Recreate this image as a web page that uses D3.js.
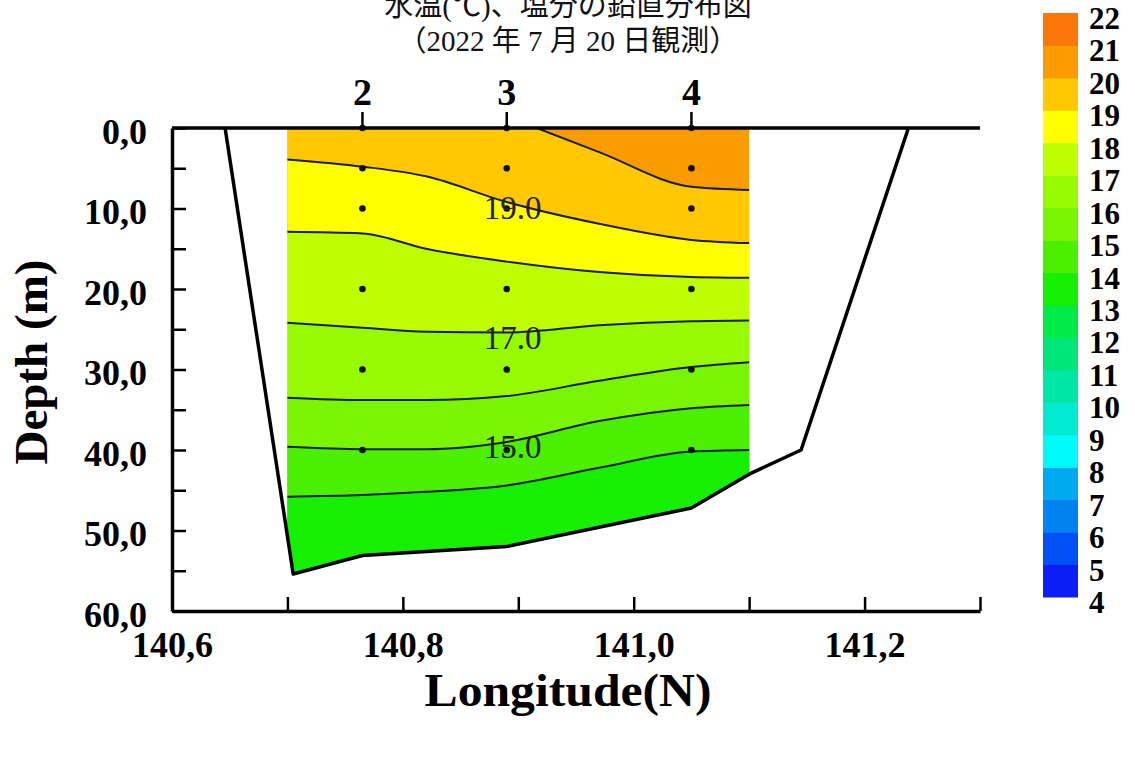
<!DOCTYPE html>
<html><head><meta charset="utf-8">
<script src="https://cdn.jsdelivr.net/npm/d3@7"></script>
<style>body{margin:0;background:#fff}</style>
</head><body><svg id="c" width="1135" height="765"></svg>
<script>
// ---------- data ----------
const titleLines = ["水温(℃)、塩分の鉛直分布図", "（2022 年 7 月 20 日観測）"];
const stationNames = ["2", "3", "4"];
const stationLon = [140.765, 140.89, 141.05];
const sampleDepths = [0, 5, 10, 20, 30, 40];
const bathyLon = [140.646, 140.705, 140.765, 140.89, 141.05, 141.10, 141.145, 141.238];
const bathyDepth = [0, 55.4, 53.1, 52.0, 47.2, 43.0, 40.0, 0];
const isoLevels = [20, 19, 18, 17, 16, 15, 14];
const iso20Lon = [140.916, 140.97, 141.05, 141.10];
const iso20Depth = [0, 3.0, 7.3, 7.7];
const isoLon = [140.70, 140.765, 140.82, 140.89, 140.97, 141.05, 141.10];
const iso19Depth = [3.9, 4.8, 6.0, 9.2, 11.9, 13.9, 14.3];
const iso18Depth = [12.9, 13.1, 15.0, 16.6, 17.9, 18.5, 18.6];
const iso17Depth = [24.2, 24.8, 25.3, 25.4, 24.5, 24.0, 23.9];
const iso16Depth = [33.5, 33.8, 33.8, 33.3, 31.4, 29.7, 29.1];
const iso15Depth = [39.6, 39.9, 39.9, 39.0, 36.4, 34.8, 34.4];
const iso14Depth = [45.8, 45.6, 45.2, 44.4, 42.2, 40.2, 40.0];
const contourLabelValues = [19, 17, 15];
const contourLabelLon = [140.895, 140.895, 140.895];
const contourLabelDepth = [9.9, 26.1, 39.6];
const xTickValues = [140.6, 140.7, 140.8, 140.9, 141.0, 141.1, 141.2, 141.3];
const xLabelValues = [140.6, 140.8, 141.0, 141.2];
const yTickValues = [0, 5, 10, 15, 20, 25, 30, 35, 40, 45, 50, 55, 60];
const yLabelValues = [0, 10, 20, 30, 40, 50, 60];
const colorbarTicks = [22, 21, 20, 19, 18, 17, 16, 15, 14, 13, 12, 11, 10, 9, 8, 7, 6, 5, 4];
const bandColors = ["#0A1EF5", "#0050F5", "#0082F0", "#00AAF0", "#00FAFA", "#00EBD2",
  "#00E6A5", "#00E678", "#00EB46", "#14F000", "#4BF000", "#78F500", "#96FA00", "#BEFF00",
  "#FFFF00", "#FFC800", "#FA9B00", "#FA780A"];

// ---------- setup ----------
const svg = d3.select("#c");
const serif = "'Liberation Serif','Times New Roman',serif";
const x = d3.scaleLinear().domain([140.6, 141.3]).range([172, 980]);
const y = d3.scaleLinear().domain([0, 60]).range([128, 611]);
const cs = d3.scaleThreshold().domain(d3.range(5, 23)).range(bandColors);
const fmtComma = d => d3.format(".1f")(d).replace(".", ",");

// title
svg.selectAll("text.title").data(titleLines).join("text")
  .attr("x", 568).attr("y", (d, i) => 16 + i * 35)
  .attr("text-anchor", "middle")
  .style("font-family", "'Liberation Serif','Noto Sans CJK JP',serif")
  .style("font-size", "29px").attr("fill", "#111").text(d => d);

// clip by sea bottom
const bathyPts = bathyLon.map((l, i) => [x(l), y(bathyDepth[i])]);
svg.append("clipPath").attr("id", "sea").append("path").attr("d", d3.line()(bathyPts) + "Z");

const g = svg.append("g").attr("clip-path", "url(#sea)");
const lonMin = 140.70, lonMax = 141.10;
g.append("rect").attr("x", x(lonMin)).attr("y", y(0))
  .attr("width", x(lonMax) - x(lonMin)).attr("height", y(60) - y(0))
  .attr("fill", cs(20.5));

const isoDepths = [null, iso19Depth, iso18Depth, iso17Depth, iso16Depth, iso15Depth, iso14Depth];
const isoSets = isoLevels.map((L, i) => {
  const lons = i === 0 ? iso20Lon : isoLon;
  const ds = i === 0 ? iso20Depth : isoDepths[i];
  return { L, pts: lons.map((l, j) => [x(l), y(ds[j])]) };
});
const lineGen = d3.line().curve(d3.curveMonotoneX);
isoSets.forEach(s => {
  const lp = lineGen(s.pts);
  const d = `M${x(lonMin)},${y(0)}L` + lp.slice(1) +
    `L${x(lonMax)},${y(60)}L${x(lonMin)},${y(60)}Z`;
  g.append("path").attr("d", d).attr("fill", cs(s.L - 0.5));
});
isoSets.forEach(s => {
  g.append("path").attr("d", lineGen(s.pts)).attr("fill", "none")
    .attr("stroke", "#1c1c1c").attr("stroke-width", 2);
});

// sample dots
stationLon.forEach(l => {
  svg.selectAll(null).data(sampleDepths).join("circle")
    .attr("cx", x(l)).attr("cy", d => y(d)).attr("r", 3.3).attr("fill", "#111");
});

// contour labels
svg.selectAll("text.cl").data(contourLabelValues).join("text")
  .attr("x", (d, i) => x(contourLabelLon[i])).attr("y", (d, i) => y(contourLabelDepth[i]) + 11)
  .attr("text-anchor", "middle").style("font-family", serif).style("font-size", "33px")
  .attr("fill", "#222").text(d => d3.format(".1f")(d));

// bathymetry outline
svg.append("path").attr("d", d3.line()(bathyPts)).attr("fill", "none")
  .attr("stroke", "#000").attr("stroke-width", 3.5).attr("stroke-linejoin", "round");
// sea surface
svg.append("line").attr("x1", x(140.6)).attr("x2", x(141.3)).attr("y1", y(0)).attr("y2", y(0))
  .attr("stroke", "#000").attr("stroke-width", 3.5);

// station labels and markers
stationLon.forEach((l, i) => {
  svg.append("line").attr("x1", x(l)).attr("x2", x(l)).attr("y1", 112).attr("y2", y(0))
    .attr("stroke", "#000").attr("stroke-width", 2.5);
  svg.append("text").attr("x", x(l)).attr("y", 105).attr("text-anchor", "middle")
    .style("font-family", serif).style("font-weight", "bold").style("font-size", "38px")
    .text(stationNames[i]);
});

// axes
const yAxis = d3.axisLeft(y).tickValues(yTickValues).tickSizeInner(-14).tickSizeOuter(0)
  .tickPadding(25).tickFormat(d => yLabelValues.includes(d) ? fmtComma(d) : "");
const ya = svg.append("g").attr("transform", `translate(${x(140.6)},0)`).call(yAxis);
const xAxis = d3.axisBottom(x).tickValues(xTickValues).tickSizeInner(-14).tickSizeOuter(0)
  .tickPadding(20).tickFormat(d => xLabelValues.some(v => Math.abs(v - d) < 1e-6) ? fmtComma(d) : "");
const xa = svg.append("g").attr("transform", `translate(0,${y(60)})`).call(xAxis);
[ya, xa].forEach(a => {
  a.select(".domain").attr("stroke", "#000").attr("stroke-width", 3.5);
  a.selectAll(".tick line").attr("stroke", "#000").attr("stroke-width", 2.5);
  a.selectAll(".tick text").style("font-family", serif).style("font-weight", "bold")
    .style("font-size", "36px").attr("fill", "#000");
});
ya.selectAll(".tick text").attr("dy", "0.42em");

// axis titles
svg.append("text").attr("x", 568).attr("y", 706).attr("text-anchor", "middle")
  .style("font-family", serif).style("font-weight", "bold").style("font-size", "46px")
  .attr("textLength", 287).attr("lengthAdjust", "spacingAndGlyphs").text("Longitude(N)");
svg.append("text").attr("transform", "translate(47,362) rotate(-90)").attr("text-anchor", "middle")
  .style("font-family", serif).style("font-weight", "bold").style("font-size", "46px")
  .attr("textLength", 205).attr("lengthAdjust", "spacingAndGlyphs").text("Depth (m)");

// colorbar
const cbY = d3.scaleLinear().domain([4, 22]).range([597, 13]);
svg.selectAll("rect.cb").data(bandColors).join("rect")
  .attr("x", 1043).attr("width", 35)
  .attr("y", (d, i) => cbY(5 + i)).attr("height", (d, i) => cbY(4 + i) - cbY(5 + i) + 0.5)
  .attr("fill", d => d);
svg.selectAll("text.cbl").data(colorbarTicks).join("text")
  .attr("x", 1089).attr("y", d => cbY(d) + 16)
  .style("font-family", serif).style("font-weight", "bold").style("font-size", "31px")
  .text(d => d);
</script></body></html>
